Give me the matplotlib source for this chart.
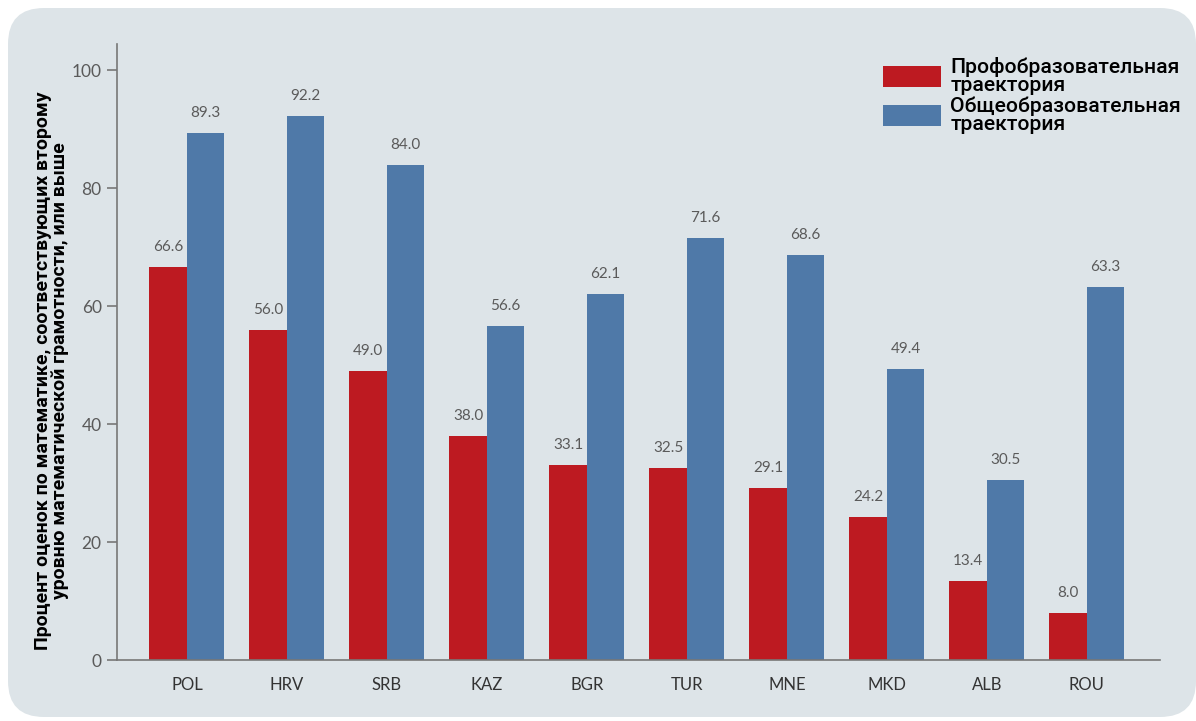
import matplotlib
matplotlib.use("Agg")
import matplotlib.pyplot as plt
import numpy as np
from matplotlib.patches import FancyBboxPatch, Patch

countries = ['POL', 'HRV', 'SRB', 'KAZ', 'BGR', 'TUR', 'MNE', 'MKD', 'ALB', 'ROU']
vocational = [66.6, 56.0, 49.0, 38.0, 33.1, 32.5, 29.1, 24.2, 13.4, 8.0]
general = [89.3, 92.2, 84.0, 56.6, 62.1, 71.6, 68.6, 49.4, 30.5, 63.3]
legend_labels = ['Профобразовательная\nтраектория', 'Общеобразовательная\nтраектория']
yticks = [0, 20, 40, 60, 80, 100]

red = '#bd1a21'
blue = '#4f79a8'
panel = '#dde4e8'
tick_gray = '#5a5a5a'

fig = plt.figure(figsize=(11.96, 7.21), dpi=100)
fig.patch.set_facecolor('white')

# rounded grey panel behind everything (pixel coords)
bg = FancyBboxPatch((8, 4), 1188, 709, boxstyle="round,pad=0,rounding_size=36",
                    facecolor=panel, edgecolor='none', transform=None, zorder=-10)
fig.patches.append(bg)

ax = fig.add_axes([0.0978, 0.0846, 0.872, 0.854])
ax.set_facecolor('none')

x = np.arange(len(countries))
w = 0.375
b1 = ax.bar(x - w / 2, vocational, w, color=red)
b2 = ax.bar(x + w / 2, general, w, color=blue)

for bars, vals in ((b1, vocational), (b2, general)):
    for r, v in zip(bars, vals):
        ax.text(r.get_x() + r.get_width() / 2, v + 2.2, f'{v:.1f}',
                ha='center', va='bottom', fontsize=11, color=tick_gray,
                family='Lato')

ax.set_xlim(-0.7, 9.73)
ax.set_ylim(0, 104.4)
ax.set_yticks(yticks)
ax.set_xticks(x)
ax.set_xticklabels(countries, family='Lato')
ax.set_yticklabels([str(t) for t in yticks], family='Lato')

for s in ['top', 'right']:
    ax.spines[s].set_visible(False)
for s in ['left', 'bottom']:
    ax.spines[s].set_color('#777777')
    ax.spines[s].set_linewidth(1.2)

ax.tick_params(axis='y', length=7, width=1.2, color='#777777', labelcolor=tick_gray,
               labelsize=12.5, pad=4)
ax.tick_params(axis='x', length=0, labelcolor='#333333', labelsize=12, pad=12)

ax.set_ylabel('Процент оценок по математике, соответствующих второму\n'
              'уровню математической грамотности, или выше',
              fontsize=14, fontweight='bold', color='black',
              linespacing=0.95, family='Roboto')
ax.yaxis.set_label_coords(-0.046, 0.47)

handles = [Patch(facecolor=red), Patch(facecolor=blue)]
leg = ax.legend(handles, legend_labels, loc='upper left', bbox_to_anchor=(0.716, 1.01),
                frameon=False, handlelength=2.75, handleheight=1.15,
                handletextpad=0.45, labelspacing=0.05,
                prop={'family': 'Roboto', 'weight': 'medium', 'size': 15.2})
for t in leg.get_texts():
    t.set_linespacing(0.95)

fig.savefig('out.png', dpi=100)
